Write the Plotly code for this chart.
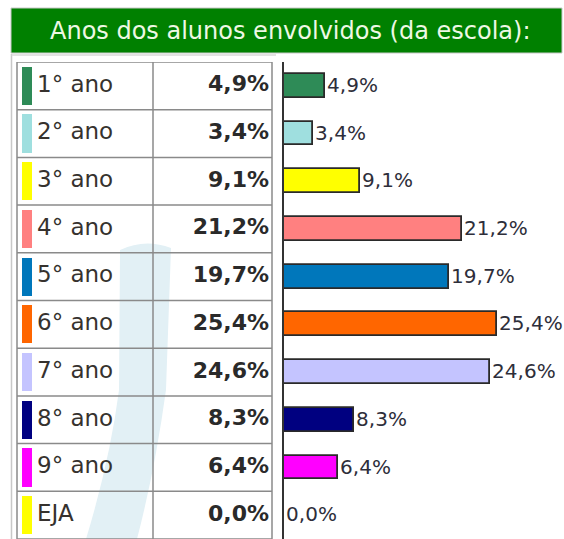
import plotly.graph_objects as go

categories = ["1° ano", "2° ano", "3° ano", "4° ano", "5° ano",
              "6° ano", "7° ano", "8° ano", "9° ano", "EJA"]
values = [4.9, 3.4, 9.1, 21.2, 19.7, 25.4, 24.6, 8.3, 6.4, 0.0]
colors = ["#2e8b57", "#9fdfdf", "#ffff00", "#ff8080", "#0077bb",
          "#ff6600", "#c4c4ff", "#000080", "#ff00ff", "#ffff00"]
title_text = "Anos dos alunos envolvidos (da escola):"

W, H = 564, 539
labels = [f"{v:.1f}%".replace(".", ",") for v in values]
idx = list(range(len(categories)))

fig = go.Figure()

# colour swatches in table (x2 axis in pixel units)
fig.add_trace(go.Bar(
    y=idx, x=[10] * len(idx), base=[22] * len(idx), orientation="h",
    width=0.8, marker=dict(color=colors, line=dict(width=0)),
    xaxis="x2", yaxis="y", hoverinfo="skip", showlegend=False))

# table labels
fig.add_trace(go.Scatter(
    y=idx, x=[37] * len(idx), mode="text", text=categories,
    textposition="middle right", xaxis="x2", yaxis="y",
    textfont=dict(family="DejaVu Sans", size=23, color="#36322e"),
    hoverinfo="skip", showlegend=False, cliponaxis=False))
fig.add_trace(go.Scatter(
    y=idx, x=[269] * len(idx), mode="text", text=labels,
    textposition="middle left", xaxis="x2", yaxis="y",
    textfont=dict(family="DejaVu Sans", size=22, color="#2a2a2a", weight="bold"),
    hoverinfo="skip", showlegend=False, cliponaxis=False))

# bars
fig.add_trace(go.Bar(
    y=idx, x=values, orientation="h", width=0.5,
    marker=dict(color=colors, line=dict(color="#2a2a2a", width=1.8)),
    text=labels, textposition="outside", constraintext="none",
    textfont=dict(family="DejaVu Sans", size=20, color="#2e2e3a"),
    cliponaxis=False, hoverinfo="skip", showlegend=False))

shapes = []
# watermark swoosh
def px(x, y):
    return f"{x / W:.4f},{1 - y / H:.4f}"
path = ("M " + px(120, 250) + " Q " + px(145, 238) + " " + px(171, 248)
        + " L " + px(166, 390) + " Q " + px(155, 470) + " " + px(137, 539)
        + " L " + px(86, 539) + " Q " + px(110, 460) + " " + px(119, 390) + " Z")
shapes.append(dict(type="path", path=path, xref="paper", yref="paper",
                   fillcolor="#e2f0f5", line=dict(width=0), layer="below"))

# header
shapes.append(dict(type="rect", xref="paper", yref="paper",
                   x0=11 / W, x1=562 / W, y0=1 - 53 / H, y1=1 - 8 / H,
                   fillcolor="#008000", line=dict(color="#c8c8c8", width=1)))
# outer frame
shapes.append(dict(type="line", xref="paper", yref="paper",
                   x0=11.5 / W, x1=11.5 / W, y0=0, y1=1 - 54 / H,
                   line=dict(color="#c8c8c8", width=1.5)))
shapes.append(dict(type="line", xref="paper", yref="paper",
                   x0=11.5 / W, x1=276 / W, y0=1 - 55 / H, y1=1 - 55 / H,
                   line=dict(color="#d8d8d8", width=1.5)))
# table grid
for i in range(len(idx) + 1):
    shapes.append(dict(type="line", xref="x2", yref="y",
                       x0=17, x1=272, y0=i - 0.5, y1=i - 0.5,
                       line=dict(color="#8a8a8a", width=1.5)))
for xv in (17, 153, 272):
    shapes.append(dict(type="line", xref="x2", yref="y",
                       x0=xv, x1=xv, y0=-0.5, y1=len(idx) - 0.5,
                       line=dict(color="#8a8a8a", width=1.5)))

fig.update_layout(
    width=W, height=H, margin=dict(l=0, r=0, t=0, b=0),
    paper_bgcolor="white", plot_bgcolor="rgba(0,0,0,0)",
    bargap=0, barmode="overlay",
    shapes=shapes,
    xaxis=dict(domain=[284 / W, 1], range=[0, 280 / 8.39], visible=False,
               fixedrange=True),
    xaxis2=dict(domain=[0, 284 / W], range=[0, 284], visible=False,
                anchor="y", fixedrange=True),
    yaxis=dict(domain=[0, 1 - 62 / H], range=[len(idx) - 0.5, -0.5],
               showticklabels=False, showgrid=False, zeroline=False,
               showline=True, linecolor="#333333", linewidth=2,
               ticks="", fixedrange=True),
    annotations=[dict(text=title_text, xref="paper", yref="paper",
                      x=290 / W, y=1 - 31 / H, showarrow=False,
                      xanchor="center", yanchor="middle",
                      font=dict(family="DejaVu Sans", size=24, color="#eef8e4"))],
)

fig.write_html("out.html")
